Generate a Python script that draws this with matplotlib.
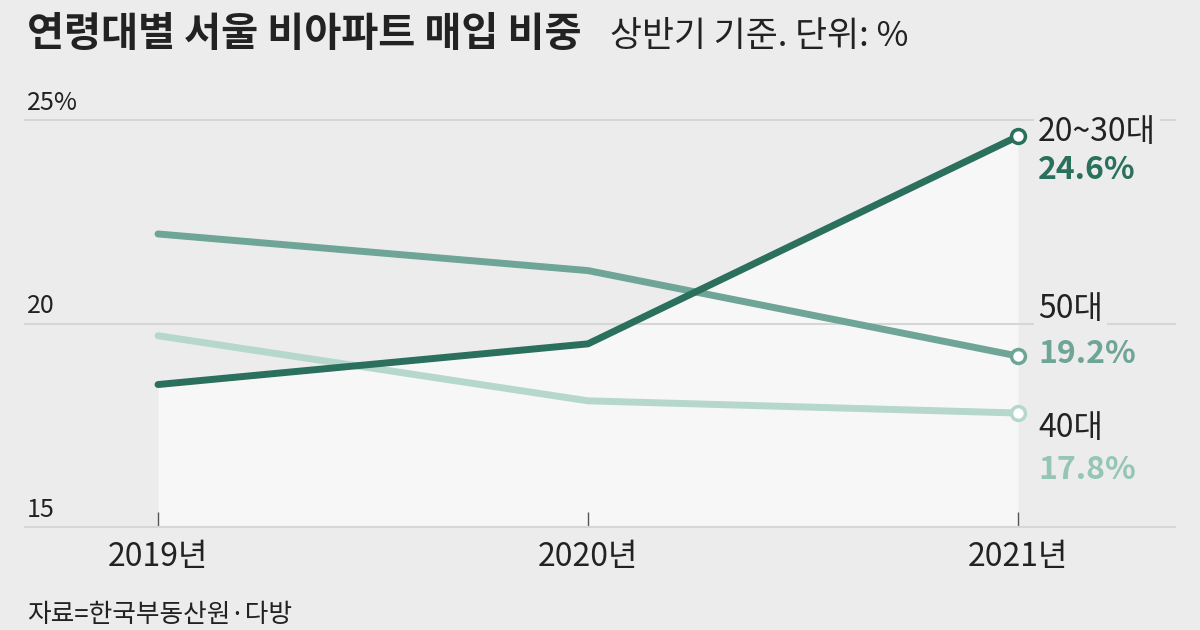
import numpy as np
import matplotlib.pyplot as plt
from matplotlib import transforms

plt.rcParams['font.family'] = ['Noto Sans CJK KR', 'DejaVu Sans']

# data
years = [2019, 2020, 2021]
year_labels = ['2019년', '2020년', '2021년']
groups = ['20~30대', '50대', '40대']
v2030 = [18.5, 19.5, 24.6]
v50 = [22.2, 21.3, 19.2]
v40 = [19.7, 18.1, 17.8]
yticks = [15, 20, 25]
ytick_labels = ['15', '20', '25%']

bg = '#ececec'
c_dark = '#2b6f5d'
c_mid = '#6ea596'
c_light = '#b5d7cc'
c_light_txt = '#95c5b5'
txt = '#222222'

W, H = 1200, 630
fig = plt.figure(figsize=(12, 6.3), dpi=100)
fig.patch.set_facecolor(bg)

def px(x, y):
    return x / W, 1 - y / H

# axes placed so that gridlines span 25..1175 px, y 15 at 527px, 25 at 120px
l, b = px(25, 527)
r, t = px(1175, 120)
ax = fig.add_axes([l, b, r - l, t - b])
ax.set_facecolor(bg)
ax.set_xlim(2019 - 133 / 430, 2021 + 157 / 430)
ax.set_ylim(15, 25)
for s in ax.spines.values():
    s.set_visible(False)

# fill under 20~30대
ax.fill_between(years, v2030, 15, color='#f7f7f7', zorder=1, lw=0)

# gridlines
for yv in yticks:
    ax.axhline(yv, color='#d6d6d6', lw=1.5, zorder=2, clip_on=False)

# y labels above gridlines
trans = transforms.blended_transform_factory(fig.transFigure, ax.transData)
for yv, lab in zip(yticks, ytick_labels):
    ax.text(27 / W, yv + 0.1, lab, transform=trans, fontsize=18,
            color=txt, ha='left', va='bottom')

# lines
ax.plot(years, v40, color=c_light, lw=5, zorder=3, solid_capstyle='round')
ax.plot(years, v50, color=c_mid, lw=5, zorder=4, solid_capstyle='round')
ax.plot(years, v2030, color=c_dark, lw=5, zorder=5, solid_capstyle='round')
for vals, c in [(v40, c_light), (v50, c_mid), (v2030, c_dark)]:
    ax.plot(years[-1], vals[-1], 'o', ms=10, mfc='white', mec=c, mew=2.5,
            zorder=6, clip_on=False)

# x ticks
ax.set_yticks([])
ax.set_xticks(years)
ax.set_xticklabels(year_labels, fontsize=23, color=txt)
ax.tick_params(axis='x', direction='in', length=11, width=1, color='#555555', pad=10)

# end labels (name above, value below)
lx = years[-1] + 20 / 430
box = dict(facecolor=bg, edgecolor='none', pad=3)
ends = [(groups[0], v2030[-1], c_dark, 0.10, -0.83),
        (groups[1], v50[-1], c_mid, 1.16, 0.05),
        (groups[2], v40[-1], c_light_txt, -0.37, -1.40)]
for name, val, c, dn, dv in ends:
    ax.text(lx, val + dn, name, fontsize=23, color=txt, ha='left', va='center',
            bbox=box, zorder=7)
    ax.text(lx, val + dv, '%.1f%%' % val, fontsize=23, weight='bold', color=c,
            ha='left', va='center', zorder=7)

# title, subtitle, source
fig.text(*px(27, 46), '연령대별 서울 비아파트 매입 비중', fontsize=29, weight='bold',
         color=txt, ha='left', va='baseline')
fig.text(*px(610, 46), '상반기 기준. 단위: %', fontsize=25, color=txt,
         ha='left', va='baseline')
fig.text(*px(27, 622), '자료=한국부동산원·다방', fontsize=18.5, color=txt,
         ha='left', va='baseline')

fig.savefig('out.png', dpi=100, facecolor=bg)
